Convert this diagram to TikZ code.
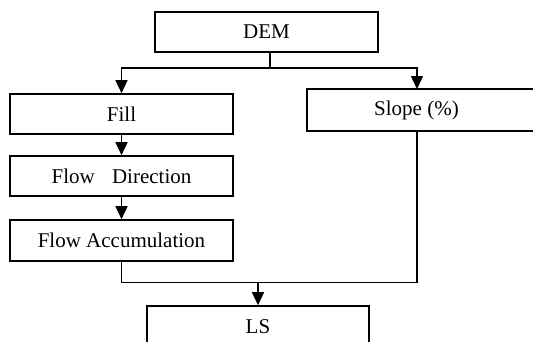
\documentclass[tikz,border=0pt]{standalone}
\usepackage{fontspec}
\setmainfont{Liberation Serif}
\usetikzlibrary{arrows.meta}
\begin{document}
\begin{tikzpicture}[x=1pt,y=-1pt,
  box/.style={draw,line width=1.6pt,rectangle,inner sep=0pt,font=\fontsize{21}{23}\selectfont},
  conn/.style={line width=1.5pt},
  arr/.style={conn,-{Triangle[length=13pt,width=12pt]}}]
\useasboundingbox (0,0) rectangle (533,341);
\clip (0,0) rectangle (533,341);
\node[box,minimum width=223pt,minimum height=40pt] (dem) at (266.5,32) {DEM};
\node[box,minimum width=223pt,minimum height=40pt] (fill) at (121.5,114) {Fill};
\node[box,minimum width=236pt,minimum height=42pt] (slope) at (425,110) {\hspace*{-17pt}Slope (\%)};
\node[box,minimum width=223pt,minimum height=40pt] (fd) at (121.5,176) {Flow\hspace{12pt} Direction};
\node[box,minimum width=223pt,minimum height=41pt] (fa) at (121.5,240.5) {Flow Accumulation};
\node[box,minimum width=222pt,minimum height=50pt,text depth=0pt] (ls) at (258,331) {\raisebox{9pt}{LS}};
\coordinate (j1) at (270,68);
\coordinate (sn) at (417,89);
\coordinate (ss) at (417,131);
\coordinate (j2) at (258,282.5);
\draw[conn] (dem.south -| j1) -- (j1);
\draw[arr] (j1) -| (fill.north);
\draw[arr] (j1) -| (sn);
\draw[arr] (fill.south) -- (fd.north);
\draw[arr] (fd.south) -- (fa.north);
\draw[conn] (fa.south) |- (j2) -| (ss);
\draw[arr] (j2) -- (ls.north);
\end{tikzpicture}
\end{document}
